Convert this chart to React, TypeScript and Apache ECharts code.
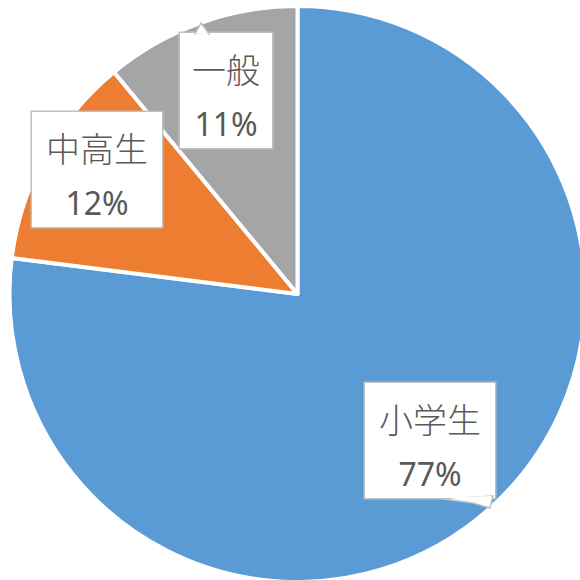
import React, { useEffect, useRef } from "react";
import * as echarts from "echarts";

const categories = ["小学生", "中高生", "一般"];
const values = [77, 12, 11];
const colors = ["#5B9BD5", "#ED7D31", "#A5A5A5"];

// label box centers (layout)
const labelCenters = [
  [430, 440.5],
  [97, 169.5],
  [226, 90.5],
];

export default function App() {
  const ref = useRef<HTMLDivElement>(null);
  useEffect(() => {
    const chart = echarts.init(ref.current!, null, { renderer: "svg" });
    const cjk = '"Noto Sans CJK JP", "Noto Sans", sans-serif';
    chart.setOption({
      animation: false,
      backgroundColor: "#ffffff",
      series: [
        {
          type: "pie",
          center: [297.5, 294],
          radius: 288,
          startAngle: 90,
          clockwise: true,
          z: 2,
          itemStyle: { borderColor: "#ffffff", borderWidth: 4 },
          data: categories.map((c, i) => ({
            name: c,
            value: values[i],
            itemStyle: { color: colors[i] },
            label: { width: c.length * 38 },
          })),
          label: {
            show: true,
            position: "inside",
            formatter: (p: any) => `{n|${p.name}}\n{p|${Math.round(p.percent)}%}`,
            backgroundColor: "#ffffff",
            borderColor: "#BFBFBF",
            borderWidth: 1.5,
            padding: [5, 8, 0, 8],
            align: "center",
            rich: {
              n: {
                fontFamily: cjk,
                fontSize: 34,
                fontWeight: 300,
                lineHeight: 60,
                color: "#595959",
                align: "center",
              },
              p: {
                fontFamily: '"Noto Sans", sans-serif',
                fontSize: 32,
                lineHeight: 50,
                color: "#595959",
                align: "center",
              },
            },
          },
          labelLine: { show: false },
          labelLayout: (params: any) => {
            const c = labelCenters[params.dataIndex];
            return { x: c[0], y: c[1], align: "center", verticalAlign: "middle" };
          },
        },
      ],
      graphic: [
        {
          type: "polygon",
          z: 100,
          shape: { points: [[195, 34], [201, 23], [209, 34]] },
          style: { fill: "#ffffff", stroke: "#BFBFBF", lineWidth: 1.5 },
        },
        {
          type: "rect",
          z: 101,
          shape: { x: 195.8, y: 33.2, width: 12.4, height: 3 },
          style: { fill: "#ffffff" },
        },
        {
          type: "polygon",
          z: 100,
          shape: { points: [[443, 499], [473, 503], [490, 508], [493, 496]] },
          style: { fill: "#ffffff", stroke: "#BFBFBF", lineWidth: 1.5 },
        },
        {
          type: "polygon",
          z: 101,
          shape: { points: [[445, 497.5], [474, 501.5], [488, 505.5], [491.5, 496]] },
          style: { fill: "#ffffff" },
        },
      ],
    });
    return () => chart.dispose();
  }, []);
  return (
    <div
      ref={ref}
      style={{ position: "fixed", left: 0, top: 0, width: 580, height: 580 }}
    />
  );
}
